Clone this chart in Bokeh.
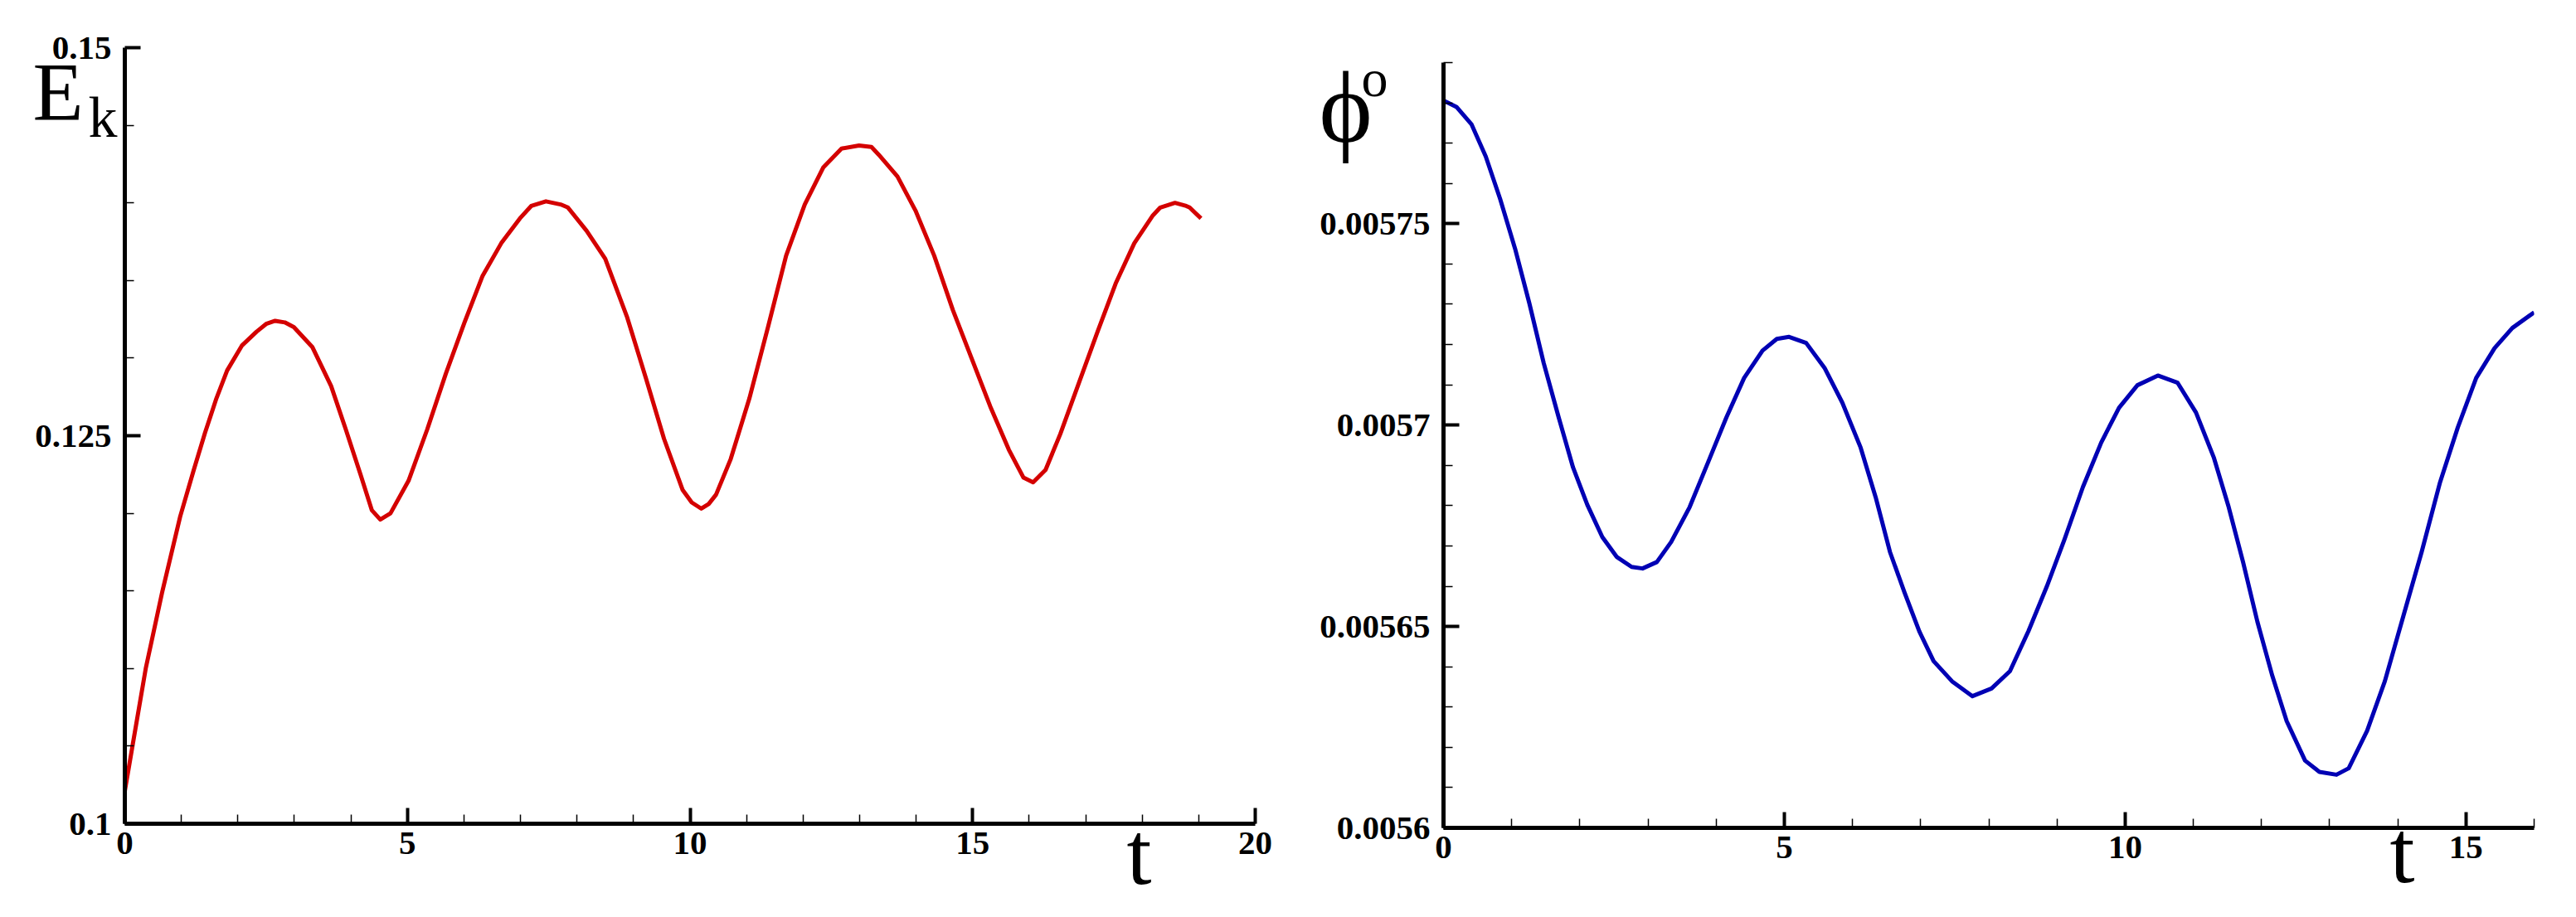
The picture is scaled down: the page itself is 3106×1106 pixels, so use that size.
from bokeh.plotting import figure
from bokeh.models import Range1d, FixedTicker, Label, GridBox
from bokeh.embed import file_html
from bokeh.resources import INLINE

# ---- data: kinetic energy E_k vs t (left panel) ----
t_ek = [0.0, 0.14, 0.37, 0.66, 0.98, 1.22, 1.42, 1.62, 1.81, 2.07, 2.33, 2.50, 2.66,
        2.83, 2.99, 3.32, 3.65, 3.91, 4.17, 4.37, 4.52, 4.70, 5.02, 5.35, 5.68, 6.01,
        6.33, 6.66, 6.99, 7.19, 7.45, 7.71, 7.84, 8.17, 8.50, 8.89, 9.22, 9.54, 9.87,
        10.03, 10.20, 10.33, 10.46, 10.72, 11.05, 11.38, 11.70, 12.03, 12.36, 12.68,
        12.99, 13.21, 13.34, 13.67, 13.99, 14.32, 14.65, 14.98, 15.31, 15.64, 15.90,
        16.07, 16.29, 16.55, 16.88, 17.21, 17.53, 17.86, 18.19, 18.32, 18.58, 18.78,
        18.84, 19.04]
ek = [0.1021, 0.1051, 0.1100, 0.1149, 0.1198, 0.1228, 0.1252, 0.1274, 0.1292, 0.1308,
      0.1317, 0.1322, 0.1324, 0.1323, 0.1320, 0.1307, 0.1282, 0.1254, 0.1225, 0.1202,
      0.1196, 0.1200, 0.1221, 0.1254, 0.1290, 0.1323, 0.1353, 0.1374, 0.1390, 0.1398,
      0.1401, 0.1399, 0.1397, 0.1382, 0.1364, 0.1326, 0.1287, 0.1248, 0.1215, 0.1207,
      0.1203, 0.1206, 0.1212, 0.1235, 0.1274, 0.1320, 0.1366, 0.1399, 0.1423, 0.1435,
      0.1437, 0.1436, 0.1431, 0.1417, 0.1395, 0.1366, 0.1331, 0.1300, 0.1269, 0.1241,
      0.1223, 0.1220, 0.1228, 0.1251, 0.1284, 0.1317, 0.1348, 0.1374, 0.1392, 0.1397,
      0.1400, 0.1398, 0.1397, 0.1390]

# ---- data: phi vs t (right panel) ----
t_phi = [0.00, 0.19, 0.41, 0.62, 0.83, 1.05, 1.26, 1.47, 1.69, 1.90, 2.11, 2.33, 2.54,
         2.76, 2.92, 3.13, 3.34, 3.61, 3.88, 4.15, 4.41, 4.68, 4.89, 5.07, 5.32, 5.59,
         5.85, 6.12, 6.34, 6.55, 6.76, 6.98, 7.19, 7.46, 7.76, 8.04, 8.31, 8.58, 8.85,
         9.11, 9.38, 9.65, 9.91, 10.18, 10.48, 10.77, 11.04, 11.30, 11.52, 11.73, 11.94,
         12.16, 12.37, 12.64, 12.85, 13.10, 13.28, 13.55, 13.81, 14.08, 14.35, 14.62,
         14.88, 15.15, 15.42, 15.68, 16.00]
phi = [0.0057806, 0.0057790, 0.0057747, 0.0057667, 0.0057562, 0.0057438, 0.0057302,
       0.0057154, 0.0057019, 0.0056895, 0.0056802, 0.0056722, 0.0056673, 0.0056648,
       0.0056644, 0.0056660, 0.0056710, 0.0056796, 0.0056907, 0.0057019, 0.0057117,
       0.0057185, 0.0057214, 0.0057219, 0.0057204, 0.0057142, 0.0057056, 0.0056944,
       0.0056821, 0.0056685, 0.0056586, 0.0056488, 0.0056414, 0.0056364, 0.0056327,
       0.0056346, 0.0056389, 0.0056488, 0.0056599, 0.0056716, 0.0056846, 0.0056957,
       0.0057043, 0.0057099, 0.0057123, 0.0057105, 0.0057031, 0.0056920, 0.0056796,
       0.0056660, 0.0056512, 0.0056377, 0.0056265, 0.0056167, 0.0056139, 0.0056132,
       0.0056148, 0.0056241, 0.0056364, 0.0056525, 0.0056685, 0.0056858, 0.0056994,
       0.0057117, 0.0057191, 0.0057241, 0.0057280]

# ---- ticks ----
ek_x_major = [0, 5, 10, 15, 20]
ek_x_minor = list(range(0, 21))
ek_y_major = [0.1, 0.125, 0.15]
ek_y_labels = ["0.1", "0.125", "0.15"]
ek_y_minor = [0.1 + 0.005 * i for i in range(11)]

phi_x_major = [0, 5, 10, 15]
phi_x_minor = list(range(0, 17))
phi_y_major = [0.0056, 0.00565, 0.0057, 0.00575]
phi_y_labels = ["0.0056", "0.00565", "0.0057", "0.00575"]
phi_y_minor = [0.0056 + 0.00001 * i for i in range(20)]

SERIF = "Liberation Serif"
H = 1100


def no_align(p):
    p.title.visible = False
    if "frame_align" in p.properties():
        p.frame_align = False


def style_axes(p, xmaj, xmin, ymaj, ylab, ymin):
    p.xaxis.ticker = FixedTicker(ticks=xmaj, minor_ticks=xmin)
    p.yaxis.ticker = FixedTicker(ticks=ymaj, minor_ticks=ymin)
    p.yaxis.major_label_overrides = {v: s for v, s in zip(ymaj, ylab)}
    for ax in (p.xaxis, p.yaxis):
        ax.axis_line_width = 5
        ax.axis_line_color = "black"
        ax.major_tick_line_width = 4
        ax.minor_tick_line_width = 1.5
        ax.major_tick_in = 19
        ax.major_tick_out = 0
        ax.minor_tick_in = 11
        ax.minor_tick_out = 0
        ax.major_label_text_font = SERIF
        ax.major_label_text_font_style = "bold"
        ax.major_label_text_font_size = "41px"
        ax.major_label_text_color = "black"
    p.xaxis.major_label_standoff = 10
    p.yaxis.major_label_standoff = 16
    p.xgrid.visible = False
    p.ygrid.visible = False
    p.outline_line_color = None
    p.background_fill_color = "white"
    p.border_fill_color = "white"
    no_align(p)


# ---- left panel ----
p1 = figure(width=1580, height=H,
            min_border_left=150, min_border_right=67,
            min_border_top=57, min_border_bottom=H - 993,
            x_range=Range1d(0, 20), y_range=Range1d(0.1, 0.15),
            output_backend="svg", toolbar_location=None)
style_axes(p1, ek_x_major, ek_x_minor, ek_y_major, ek_y_labels, ek_y_minor)
p1.line(t_ek, ek, line_color="#d40000", line_width=5, line_join="round")

# ---- right panel ----
p2 = figure(width=1520, height=H,
            min_border_left=160, min_border_right=45,
            min_border_top=75, min_border_bottom=H - 998,
            x_range=Range1d(0, 16), y_range=Range1d(0.0056, 0.00579),
            output_backend="svg", toolbar_location=None)
style_axes(p2, phi_x_major, phi_x_minor, phi_y_major, phi_y_labels, phi_y_minor)
p2.line(t_phi, phi, line_color="#0000b4", line_width=5, line_join="round")

# ---- transparent overlay carrying the axis titles (not clipped by the frames) ----
ov = figure(width=3100, height=H, x_range=Range1d(0, 3100), y_range=Range1d(H, 0),
            x_axis_type=None, y_axis_type=None, min_border=0,
            min_border_left=0, min_border_right=0, min_border_top=0, min_border_bottom=0,
            output_backend="svg", toolbar_location=None)
ov.background_fill_color = None
ov.border_fill_color = None
ov.outline_line_color = None
no_align(ov)


def add_text(x, baseline, text, size):
    # text is anchored at its middle; shift from the wanted baseline
    ov.add_layout(Label(x=x, y=baseline - 0.3375 * size, text=text, text_font=SERIF,
                        text_font_size=f"{size}px", text_baseline="middle",
                        text_align="left", text_color="black"))


add_text(39, 144, "E", 100)
add_text(106, 165, "k", 70)
add_text(1358, 1065, "t", 108)
add_text(1590, 170, "\u03d5", 122)
add_text(1641, 116, "o", 64)
add_text(2881, 1063, "t", 108)

layout = GridBox(children=[(p1, 0, 0), (p2, 0, 1), (ov, 0, 0, 1, 2)])
open("out.html", "w").write(file_html(layout, INLINE))
